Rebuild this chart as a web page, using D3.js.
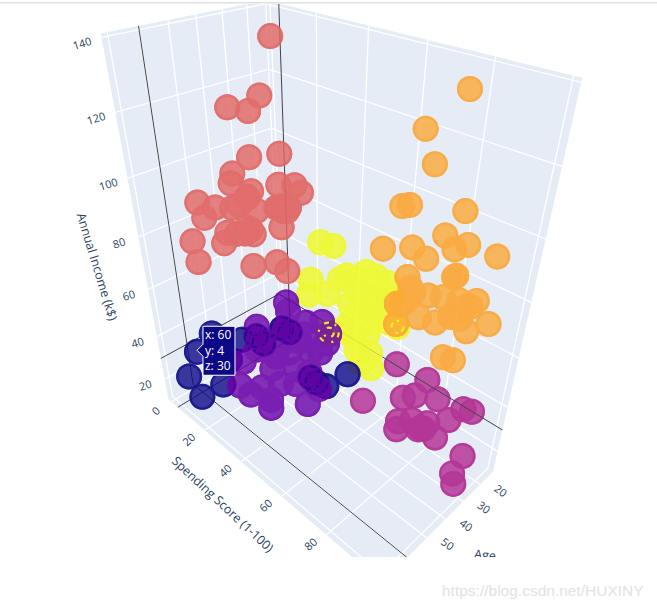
<!DOCTYPE html>
<html><head><meta charset="utf-8"><script src="https://cdn.jsdelivr.net/npm/d3@7"></script>
<style>html,body{margin:0;background:#fff}svg{display:block}</style></head><body><svg id="c" width="657" height="608"></svg>
<script>
const ageDomain=[12,72], scoreDomain=[-2,102], incomeDomain=[10,141];
const ageTicks=[20,30,40,50,60,70], scoreTicks=[0,20,40,60,80,100], incomeTicks=[20,40,60,80,100,120,140];
const clusterColors=["#0d0887","#6a00a8","#b12a90","#e16462","#fca636","#f0f921"];

const magentaAge=[35,24,30,28,31,29,27,32,35,20,23,29,22,21,19,24,31,35,25,23];
const magentaScore=[75,54,75,82,80,87,72,75,86,78,81,88,88,92,94,96,97,100,79,75];
const magentaIncome=[54,17,37,48,42,44,22,24,35,18,25,28,31,38,37,22,20,21,22,22];

const yellowAge=[19,20,23,27,25,21,18,19,27,24,26,31,27,29,32,30,33,31,34,35,33,32,35,29,22,22,33,26,28,20,18,30];
const yellowScore=[28,35,27,30,37,42,48,53,49,53,61,55,58,66,72,60,56,60,54,59,63,63,61,47,62,40,45,51,61,47,57,52];
const yellowIncome=[70,72,56,53,56,64,67,68,59,65,69,60,64,62,65,59,52,55,56,50,50,43,46,48,65,62,48,64,61,65,67,55];

const navyAge=[58,60,65,67,52,47,49,36,33,32,42,37,35,45,40];
const navyScore=[12,4,4,14,7,15,9,25,44,53,21,40,41,21,33];
const navyIncome=[42,30,21,19,11,35,23,40,23,34,34,27,24,39,45];

const purpleAge=[43,53,55,47,49,48,45,45,47,49,49,50,54,59,52,56,53,54,63,61,66,68,67,60,57,59,55,50,54,57,49,51];
const purpleScore=[35,31,34,40,41,49,53,56,57,56,49,39,35,30,45,41,49,56,32,41,41,53,52,61,53,48,61,53,41,35,47,41];
const purpleIncome=[60,53,51,61,57,62,63,60,58,55,58,52,47,41,50,43,46,50,34,38,38,42,44,44,45,43,47,54,47,48,54,51];

const salmonAge=[32,32,44,36,36,19,41,42,20,19,37,20,56,47,54,43,40,37,36,25,21,23,27,24,46,42,40,38,47,59,57,34,26,22,38,41,39,22,24];
const salmonScore=[21,15,14,14,13,9,10,10,9,16,14,20,10,7,10,11,11,12,15,14,15,14,15,14,11,11,16,15,10,9,8,9,13,14,13,14,13,15,14];
const salmonIncome=[138,120,119,116,101,96,96,93,85,87,90,86,91,85,85,85,85,87,83,80,79,78,81,72,77,75,78,75,73,78,69,58,58,53,88,76,77,78,80];

const orangeAge=[32,30,32,33,31,30,33,39,34,36,31,28,29,30,31,35,36,33,32,30,28,38,39,36,29,35,36,32,32,33,27,40,38,36,30,38,31];
const orangeScore=[86,74,79,71,72,88,85,70,76,82,87,89,98,88,88,76,78,82,86,90,94,78,76,79,93,81,87,89,92,95,98,77,92,94,92,77,90];
const orangeIncome=[139,126,119,105,105,109,102,94,95,95,98,99,100,90,90,86,84,82,83,83,84,80,79,83,82,75,77,78,79,77,78,73,69,68,82,79,80];

const hovered=[60,4,30];

const ageS=d3.scaleLinear().domain(ageDomain).range([0,1]);
const scoreS=d3.scaleLinear().domain(scoreDomain).range([0,1]);
const incomeS=d3.scaleLinear().domain(incomeDomain).range([0,1]);
// projective camera fitted to the corners of the scene box
const corners=[[0,0,0,280,335],[0,1,0,169,397],[1,0,0,494,469],[1,1,0,381,585],[0,0,1,265.5,-1],[0,1,1,101,34],[1,0,1,582,79]];
function solveCam(){const A=[],b=[];corners.forEach(([u,v,w,x,y])=>{x/=500;y/=500;
 A.push([u,v,w,1,0,0,0,0,-x*u,-x*v,-x*w]);b.push(x);
 A.push([0,0,0,0,u,v,w,1,-y*u,-y*v,-y*w]);b.push(y);});
 const n=11,M=d3.range(n).map(i=>d3.range(n+1).map(j=>j<n?d3.sum(A,r=>r[i]*r[j]):d3.sum(A,(r,k)=>r[i]*b[k])));
 for(let i=0;i<n;i++){let p=i;for(let k=i+1;k<n;k++)if(Math.abs(M[k][i])>Math.abs(M[p][i]))p=k;[M[i],M[p]]=[M[p],M[i]];
  for(let k=0;k<n;k++)if(k!==i){const f=M[k][i]/M[i][i];for(let j=i;j<=n;j++)M[k][j]-=f*M[i][j];}}
 return M.map((r,i)=>r[n]/r[i]);}
const P=solveCam();
function project(age,score,income){const u=scoreS(score),v=ageS(age),w=incomeS(income),d=P[8]*u+P[9]*v+P[10]*w+1;
 return [500*(P[0]*u+P[1]*v+P[2]*w+P[3])/d,500*(P[4]*u+P[5]*v+P[6]*w+P[7])/d];}

const svg=d3.select("#c");
svg.append("rect").attr("x",0).attr("y",2).attr("width",657).attr("height",1.5).attr("fill","#e0e0e0");
svg.append("defs").append("clipPath").attr("id","cl").append("rect").attr("x",0).attr("y",4).attr("width",657).attr("height",553);
const g=svg.append("g").attr("clip-path","url(#cl)");
const [a0,a1]=ageDomain,[s0,s1]=scoreDomain,[i0,i1]=incomeDomain;
const line=d3.line();
const seg=(p,q,col,w)=>g.append("path").attr("d",line([p,q])).attr("stroke",col).attr("stroke-width",w).attr("fill","none");
const poly=pts=>g.append("path").attr("d",line(pts)+"Z").attr("fill","#e5ecf6");
poly([project(a0,s0,i0),project(a1,s0,i0),project(a1,s1,i0),project(a0,s1,i0)]);
poly([project(a0,s0,i0),project(a1,s0,i0),project(a1,s0,i1),project(a0,s0,i1)]);
poly([project(a0,s0,i0),project(a0,s1,i0),project(a0,s1,i1),project(a0,s0,i1)]);
const W="#fff",GW=1.3;
ageTicks.forEach(t=>{seg(project(t,s0,i0),project(t,s1,i0),W,GW);seg(project(t,s0,i0),project(t,s0,i1),W,GW);});
scoreTicks.forEach(t=>{seg(project(a0,t,i0),project(a1,t,i0),W,GW);seg(project(a0,t,i0),project(a0,t,i1),W,GW);});
incomeTicks.forEach(t=>{seg(project(a0,s0,t),project(a1,s0,t),W,GW);seg(project(a0,s0,t),project(a0,s1,t),W,GW);});
seg(project(a0,s0,i0),project(a0,s0,i1),W,GW);

const SP="#444";
function drawSpikes(){const [ha,hs,hi]=hovered;
 seg(project(ha,s0,i0),project(ha,s0,i1),SP,1);
 seg(project(a0,hs,i0),project(a0,hs,i1),SP,1);
 seg(project(a0,s0,hi),project(a1,s0,hi),SP,1);
 seg(project(a0,s0,hi),project(a0,s1,hi),SP,1);
 seg(project(ha,s0,i0),project(ha,s1,i0),SP,1);
 seg(project(a0,hs,i0),project(a1,hs,i0),SP,1);}

function drawCluster(ages,scores,incomes,color,groupOpacity){
 const pts=d3.zip(ages,scores,incomes).map(d=>project(...d));
 const cg=g.append("g").attr("opacity",groupOpacity);
 const fo=.8/groupOpacity;
 cg.selectAll("circle.f").data(pts).join("circle").attr("class","f").attr("cx",d=>d[0]).attr("cy",d=>d[1]).attr("r",13).attr("fill",color).attr("fill-opacity",fo);
 cg.selectAll("circle.r").data(pts).join("circle").attr("class","r").attr("cx",d=>d[0]).attr("cy",d=>d[1]).attr("r",11.8).attr("fill","none").attr("stroke",color).attr("stroke-opacity",fo).attr("stroke-width",2.4);
 return pts;}
// the reference shows depth-fighting fragments of the hidden cluster through the one in front
function fragments(pts,idx,color,radii,width,dash,op){idx.forEach(i=>radii.forEach(r=>g.append("circle").attr("cx",pts[i][0]).attr("cy",pts[i][1]).attr("r",r).attr("fill","none").attr("stroke",color).attr("stroke-width",width).attr("stroke-dasharray",dash).attr("stroke-opacity",op)));}

drawCluster(magentaAge,magentaScore,magentaIncome,clusterColors[2],.93);
drawSpikes();
const yellowPts=drawCluster(yellowAge,yellowScore,yellowIncome,clusterColors[5],.88);
const navyPts=drawCluster(navyAge,navyScore,navyIncome,clusterColors[0],.93);
drawCluster(purpleAge,purpleScore,purpleIncome,clusterColors[1],.87);
fragments(navyPts,[5,7,10,11,12,13,14],clusterColors[0],[11],1.5,"6 3 2 6",.75);
fragments(yellowPts,[26],clusterColors[5],[5,10],2.2,"5 6 2 8",.95);
drawCluster(salmonAge,salmonScore,salmonIncome,clusterColors[3],.93);
drawCluster(orangeAge,orangeScore,orangeIncome,clusterColors[4],.93);
fragments(yellowPts,[14],clusterColors[5],[6],2.2,"5 4 2 7",.95);

const txt=(x,y,s,rot,fs)=>g.append("text").attr("transform",`translate(${x},${y}) rotate(${rot})`).attr("text-anchor","middle").attr("dominant-baseline","middle").attr("font-family","'Open Sans'").attr("font-size",fs).attr("fill","#2a3f5f").text(s);
incomeTicks.forEach(t=>{const p=project(a1,s0,t);txt(p[0]-19,p[1]+7,t,-17,11);});
scoreTicks.forEach(t=>{const p=project(a1,t,i0);txt(p[0]-15,p[1]+10,t,-42,11);});
ageTicks.forEach(t=>{const p=project(t,s1,i0);txt(p[0]+20,p[1]+7,t,36,11);});
txt(96,267,"Annual Income (k$)",73,12.5);
txt(222,505,"Spending Score (1-100)",43,12.5);
txt(485,556,"Age",6,12.5);

const hp=project(...hovered),tx=hp[0],ty=hp[1]-1.5;
const hg=svg.append("g");
hg.append("path").attr("d",line([[tx,ty],[tx+6,ty-6],[tx+6,ty-24],[tx+38,ty-24],[tx+38,ty+25],[tx+6,ty+25],[tx+6,ty+6]])+"Z").attr("fill",clusterColors[0]).attr("stroke","#fff").attr("stroke-width",1);
[["x",hovered[0]],["y",hovered[1]],["z",hovered[2]]].forEach(([k,v],i)=>hg.append("text").attr("x",tx+8).attr("y",ty-11+i*15.5).attr("font-family","'Open Sans'").attr("font-size",12).attr("fill","#fff").text(k+": "+v));
svg.append("text").attr("x",442).attr("y",596).attr("font-family","'Liberation Sans'").attr("font-size",15.5).attr("fill","#e2e2e2").text("https://blog.csdn.net/HUXINY");
</script></body></html>
